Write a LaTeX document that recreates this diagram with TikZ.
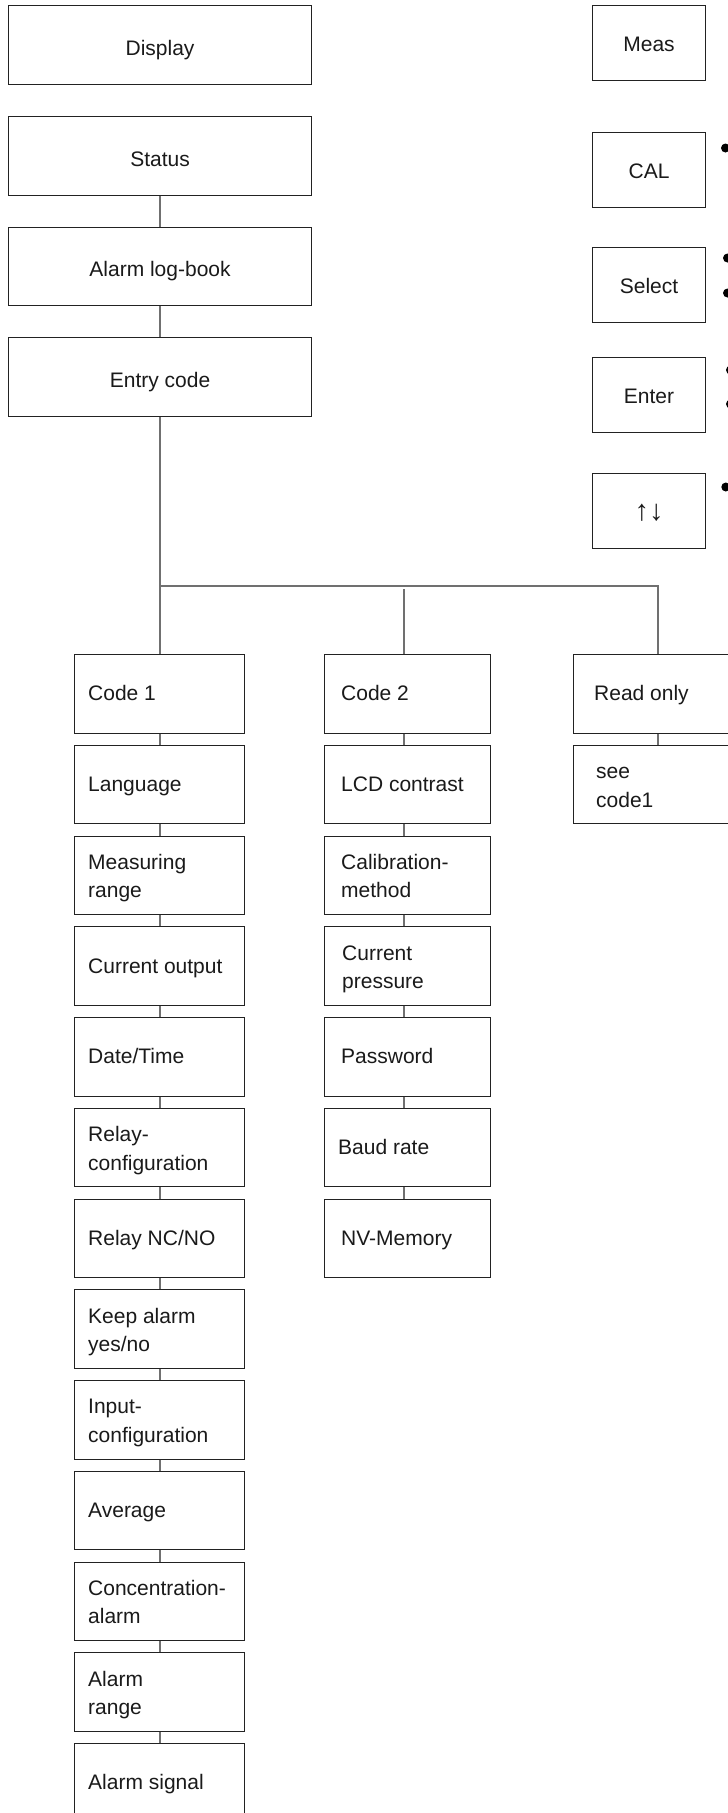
\documentclass[tikz,border=0pt]{standalone}
\usepackage{fontspec}
\setmainfont{Liberation Sans}
\definecolor{boxc}{HTML}{222222}
\definecolor{connc}{HTML}{707070}
\definecolor{txtc}{HTML}{1A1A1A}
\newcommand\mybox[6]{%
  \node[box, minimum width=#4pt, minimum height=78.5pt, anchor=north west] (#1) at (#2,#3) {};
  \node[txt, anchor=base west] (#1-t) at ([xshift=#5pt, yshift=-7pt]#1.west) {#6};}
\newcommand\myboxii[7]{%
  \node[box, minimum width=#4pt, minimum height=78.5pt, anchor=north west] (#1) at (#2,#3) {};
  \node[txt, anchor=base west] (#1-t) at ([xshift=#5pt, yshift=-22.5pt]#1.west) {#6\\#7};}
\newcommand\topbox[4]{%
  \node[box, minimum width=303pt, minimum height=#3pt, anchor=north west] (#1) at (8,#2) {};
  \node[txt, anchor=base] (#1-t) at ([yshift=-10.5pt]#1.center) {#4};}
\newcommand\keybox[3]{%
  \node[box, minimum width=113pt, minimum height=75pt, anchor=north west] (#1) at (592,#2) {};
  \node[txt, anchor=base] (#1-t) at ([yshift=-8pt]#1.center) {#3};}
\begin{document}
\begin{tikzpicture}[x=1pt,y=-1pt,
  box/.style={draw=boxc, line width=1.1pt, inner sep=0pt, fill=white},
  txt/.style={inner sep=0pt, text=txtc, font=\fontsize{21}{28.5}\selectfont, align=left},
  conn/.style={draw=connc, line width=1.5pt},
  dot/.style={circle, fill=black, inner sep=0pt, minimum size=9pt}]
\useasboundingbox (0,0) rectangle (728,1813);

% top column
\topbox{disp}{5}{79}{Display}
\topbox{stat}{116}{78.5}{Status}
\topbox{alog}{226.5}{78.5}{Alarm log-book}
\topbox{entr}{337}{79}{Entry code}

% key column
\keybox{meas}{5}{Meas}
\keybox{cal}{132}{CAL}
\keybox{sel}{247}{Select}
\keybox{ent}{357}{Enter}
\node[box, minimum width=113pt, minimum height=75pt, anchor=north west] (ud) at (592,473) {};
\node[txt, font=\fontsize{29}{30}\selectfont, anchor=base] (ud-t) at ([yshift=-9pt]ud.center) {↑↓};

% bullets
\node[dot] (d1) at (725.5,148) {};
\node[dot] (d2) at (727.5,258) {};
\node[dot] (d3) at (727.5,293) {};
\node[dot] (d4) at (730.5,370) {};
\node[dot] (d5) at (730.5,404) {};
\node[dot] (d6) at (725.8,487) {};

% column 1
\mybox{a0}{74}{654}{170}{14}{Code 1}
\mybox{a1}{74}{744.75}{170}{14}{Language}
\myboxii{a2}{74}{835.5}{170}{14}{Measuring}{range}
\mybox{a3}{74}{926.25}{170}{14}{Current output}
\mybox{a4}{74}{1017}{170}{14}{Date/Time}
\myboxii{a5}{74}{1107.75}{170}{14}{Relay-}{configuration}
\mybox{a6}{74}{1198.5}{170}{14}{Relay NC/NO}
\myboxii{a7}{74}{1289.25}{170}{14}{Keep alarm}{yes/no}
\myboxii{a8}{74}{1380}{170}{14}{Input-}{configuration}
\mybox{a9}{74}{1470.75}{170}{14}{Average}
\myboxii{a10}{74}{1561.5}{170}{14}{Concentration-}{alarm}
\myboxii{a11}{74}{1652.25}{170}{14}{Alarm}{range}
\mybox{a12}{74}{1743}{170}{14}{Alarm signal}

% column 2
\mybox{b0}{324}{654}{166}{17}{Code 2}
\mybox{b1}{324}{744.75}{166}{17}{LCD contrast}
\myboxii{b2}{324}{835.5}{166}{17}{Calibration-}{method}
\myboxii{b3}{324}{926.25}{166}{18}{Current}{pressure}
\mybox{b4}{324}{1017}{166}{17}{Password}
\mybox{b5}{324}{1107.75}{166}{14}{Baud rate}
\mybox{b6}{324}{1198.5}{166}{17}{NV-Memory}

% column 3
\mybox{r0}{573}{654}{166}{21}{Read only}
\myboxii{r1}{573}{744.75}{166}{23}{see}{code1}

% connectors
\coordinate (trunk) at (160,586);
\coordinate (rj) at (658,586);
\coordinate (c2j) at (404,589);
\draw[conn] (stat.south -| trunk) -- (alog.north -| trunk);
\draw[conn] (alog.south -| trunk) -- (entr.north -| trunk);
\draw[conn] (entr.south -| trunk) -- (a0.north -| trunk);
\draw[conn] (trunk) -- (rj) -- (r0.north -| rj);
\draw[conn] (c2j) -- (b0.north -| c2j);
\draw[conn] (r0.south -| rj) -- (r1.north -| rj);
\foreach \i [evaluate=\i as \j using int(\i+1)] in {0,...,11}
  \draw[conn] (a\i.south -| trunk) -- (a\j.north -| trunk);
\foreach \i [evaluate=\i as \j using int(\i+1)] in {0,...,5}
  \draw[conn] (b\i.south -| c2j) -- (b\j.north -| c2j);
\end{tikzpicture}
\end{document}
